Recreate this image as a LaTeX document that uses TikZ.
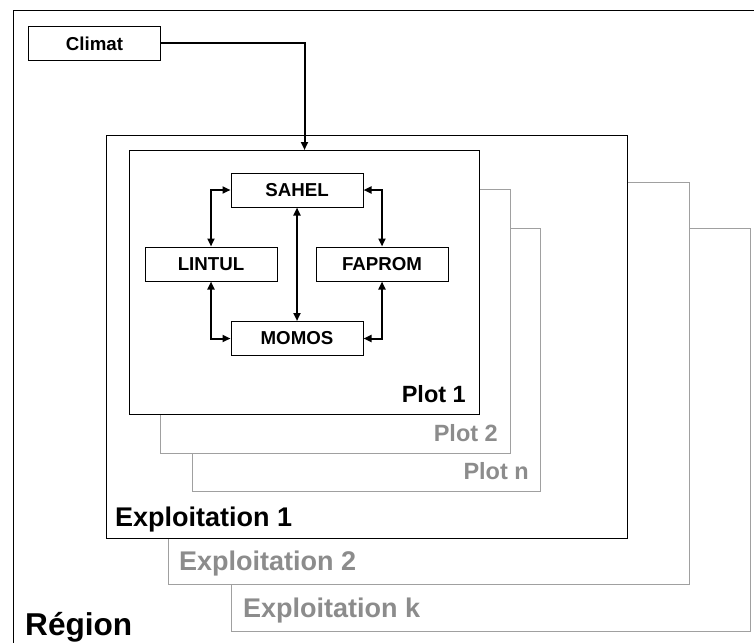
\documentclass[tikz,border=0pt]{standalone}
\usepackage{fontspec}
\setmainfont{Liberation Sans}
\usetikzlibrary{arrows.meta}
\definecolor{gline}{HTML}{A0A0A0}
\definecolor{gtext}{HTML}{8C8C8C}
\tikzset{
  bigbox/.style={draw=black, line width=1pt, fill=white, anchor=north west, inner sep=0pt},
  graybox/.style={draw=gline, line width=1pt, fill=white, anchor=north west, inner sep=0pt},
  modbox/.style={draw=black, line width=1pt, fill=white, minimum width=132pt, minimum height=34pt, inner sep=0pt,
     font=\fontsize{18.7}{20}\selectfont\bfseries},
  conn/.style={line width=2pt, -{Triangle[length=8pt,width=7pt]}},
  conn2/.style={line width=2pt, {Triangle[length=8pt,width=7pt]}-{Triangle[length=8pt,width=7pt]}},
  plotlbl/.style={anchor=base east, inner sep=0pt, font=\fontsize{23.5}{25}\selectfont\bfseries},
  explbl/.style={anchor=base west, inner sep=0pt, font=\fontsize{27}{29}\selectfont\bfseries},
}
\begin{document}
\begin{tikzpicture}[x=1pt,y=-1pt]
\useasboundingbox (0,0) rectangle (754,642);
\begin{scope}
\clip (0,0) rectangle (754,642);
\node[bigbox, minimum width=780pt, minimum height=660pt] (region) at (13,10) {};
\end{scope}
\node[modbox, anchor=north west, minimum width=132pt] (climat) at (28,26) {Climat};
% exploitations
\node[graybox, minimum width=519pt, minimum height=403pt] (expk) at (231,228) {};
\node[graybox, minimum width=521pt, minimum height=402pt] (exp2) at (168,182) {};
\node[bigbox, minimum width=521pt, minimum height=403pt] (exp1) at (106,135) {};
% plots
\node[graybox, minimum width=348pt, minimum height=263pt] (plotn) at (192,228) {};
\node[graybox, minimum width=350pt, minimum height=264pt] (plot2) at (160,189) {};
\node[bigbox, minimum width=350pt, minimum height=264pt] (plot1) at (129,150) {};
% modules
\node[modbox] (sahel) at (297,190) {SAHEL};
\node[modbox] (lintul) at (211,264) {LINTUL};
\node[modbox] (faprom) at (382,264) {FAPROM};
\node[modbox] (momos) at (297,338.5) {MOMOS};
% connectors
\draw[conn] (climat.east) -| (plot1.north);
\draw[conn2] (lintul.north) |- (sahel.west);
\draw[conn2] (faprom.north) |- (sahel.east);
\draw[conn2] (sahel.south) -- (momos.north);
\draw[conn2] (lintul.south) |- (momos.west);
\draw[conn2] (faprom.south) |- (momos.east);
% labels
\node[plotlbl] (lp1) at (466,402) {Plot 1};
\node[plotlbl, text=gtext] (lp2) at (498,441) {Plot 2};
\node[plotlbl, text=gtext] (lpn) at (529,479) {Plot n};
\node[explbl] (le1) at (115,526) {Exploitation 1};
\node[explbl, text=gtext] (le2) at (179,570) {Exploitation 2};
\node[explbl, text=gtext] (lek) at (243,617) {Exploitation k};
\node[anchor=base west, inner sep=0pt, font=\fontsize{31.6}{33}\selectfont\bfseries] (lreg) at (25,635) {Région};
\end{tikzpicture}
\end{document}
